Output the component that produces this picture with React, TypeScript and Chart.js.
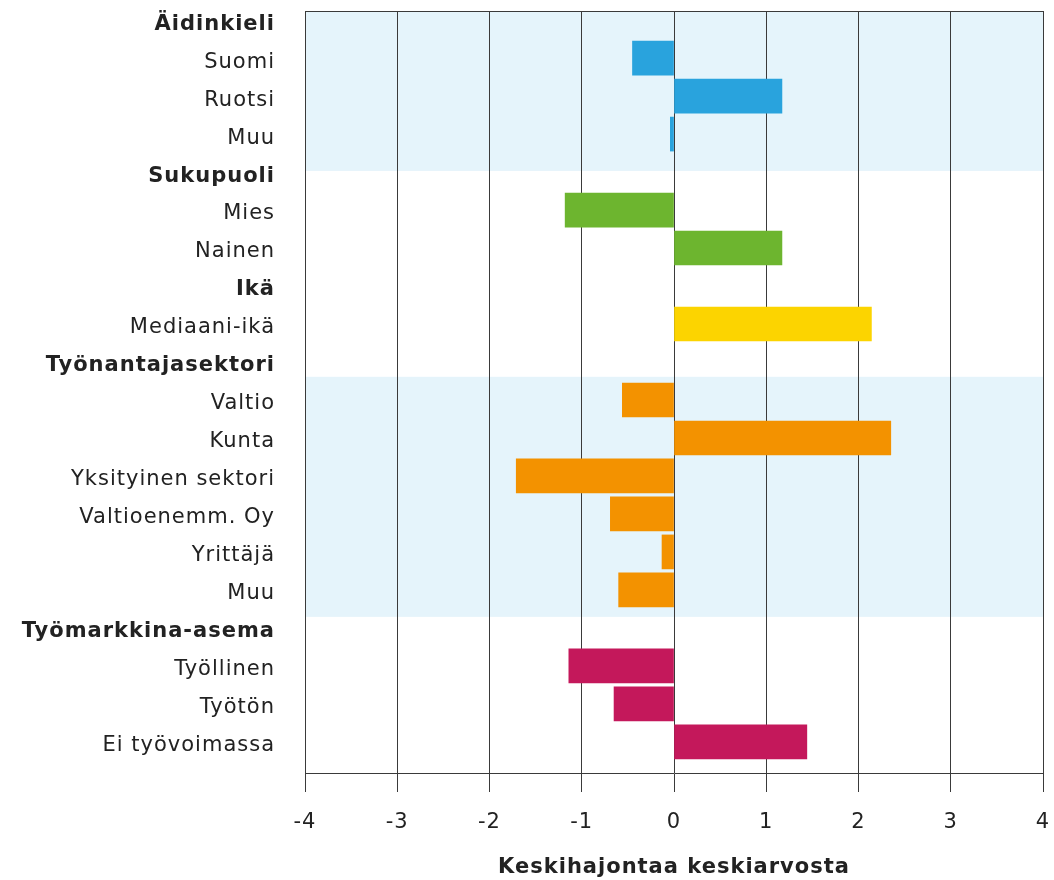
import { useEffect, useRef } from 'react';
import { Chart, registerables } from 'chart.js';

Chart.register(...registerables);

const categories = [
  'Äidinkieli', 'Suomi', 'Ruotsi', 'Muu',
  'Sukupuoli', 'Mies', 'Nainen',
  'Ikä', 'Mediaani-ikä',
  'Työnantajasektori', 'Valtio', 'Kunta', 'Yksityinen sektori', 'Valtioenemm. Oy', 'Yrittäjä', 'Muu',
  'Työmarkkina-asema', 'Työllinen', 'Työtön', 'Ei työvoimassa',
];
const headerRows = [0, 4, 7, 9, 16];
const values: (number | null)[] = [
  null, -0.45, 1.17, -0.04,
  null, -1.18, 1.17,
  null, 2.14,
  null, -0.56, 2.35, -1.71, -0.69, -0.13, -0.60,
  null, -1.14, -0.65, 1.44,
];
const groupOfRow = [0, 0, 0, 0, 1, 1, 1, 2, 2, 3, 3, 3, 3, 3, 3, 3, 4, 4, 4, 4];
const groupColors = ['#29a3dd', '#6db52f', '#fcd400', '#f39200', '#c4185b'];
const xTicks = [-4, -3, -2, -1, 0, 1, 2, 3, 4];
const axisTitle = 'Keskihajontaa keskiarvosta';
// shaded background bands, in row units
const bands: [number, number][] = [[-0.24, 3.97], [9.39, 15.71]];

const FONT = '"DejaVu Sans", Verdana, sans-serif';
const LS = '1px';

const bandPlugin = {
  id: 'bands',
  beforeLayout(chart: any) {
    chart.ctx.letterSpacing = LS;
  },
  beforeDraw(chart: any) {
    const { ctx, chartArea, scales } = chart;
    ctx.letterSpacing = LS;
    const y = scales.y;
    ctx.save();
    ctx.fillStyle = '#e5f4fb';
    bands.forEach(([a, b]) => {
      const y1 = Math.max(y.getPixelForValue(a), chartArea.top);
      const y2 = Math.min(y.getPixelForValue(b), chartArea.bottom);
      ctx.fillRect(chartArea.left, y1, chartArea.right - chartArea.left, y2 - y1);
    });
    ctx.restore();
  },
  afterDraw(chart: any) {
    const { ctx, chartArea } = chart;
    ctx.save();
    ctx.strokeStyle = '#3a3a3a';
    ctx.lineWidth = 1;
    ctx.beginPath();
    ctx.moveTo(chartArea.left, Math.round(chartArea.top) + 0.5);
    ctx.lineTo(chartArea.right + 1, Math.round(chartArea.top) + 0.5);
    ctx.stroke();
    ctx.restore();
  },
};

export default function App() {
  const ref = useRef<HTMLCanvasElement>(null);
  useEffect(() => {
    if (!ref.current) return;
    const data = values
      .map((v, i) => ({ x: v, y: i }))
      .filter((d) => d.x !== null);
    const chart = new Chart(ref.current, {
      type: 'bar',
      data: {
        datasets: [
          {
            data: data as any,
            backgroundColor: (c: any) => groupColors[groupOfRow[c.raw?.y ?? 0]],
            borderWidth: 0,
            barThickness: 34,
          },
        ],
      },
      plugins: [bandPlugin],
      options: {
        indexAxis: 'y',
        animation: false,
        responsive: true,
        maintainAspectRatio: false,
        layout: { padding: { top: 11, right: 11, left: 0, bottom: 0 } },
        plugins: { legend: { display: false }, tooltip: { enabled: false } },
        scales: {
          x: {
            type: 'linear',
            position: 'bottom',
            min: -4,
            max: 4,
            afterBuildTicks: (axis: any) => {
              axis.ticks = xTicks.map((v) => ({ value: v }));
            },
            afterFit: (scale: any) => {
              scale.paddingLeft = 0;
              scale.paddingRight = 0;
              scale.height = 107;
            },
            grid: { color: '#3a3a3a', lineWidth: 1, drawTicks: true, tickLength: 19, tickColor: '#3a3a3a' },
            border: { display: true, color: '#3a3a3a', width: 1 },
            ticks: {
              padding: 18,
              color: '#222',
              font: { family: FONT, size: 21 },
              callback: (v: any) => String(v),
            },
            title: {
              display: true,
              text: axisTitle,
              color: '#222',
              font: { family: FONT, size: 21, weight: 'bold' },
              padding: { top: 20, bottom: 0 },
            },
          },
          y: {
            type: 'linear',
            reverse: true,
            offset: false,
            min: -0.24,
            max: 19.82,
            afterBuildTicks: (axis: any) => {
              axis.ticks = categories.map((_, i) => ({ value: i }));
            },
            afterFit: (scale: any) => {
              scale.width = 305;
              scale.paddingTop = 0;
              scale.paddingBottom = 0;
            },
            grid: { display: false, drawTicks: false, offset: false },
            border: { display: false },
            ticks: {
              autoSkip: false,
              padding: 30,
              labelOffset: 4,
              color: '#222',
              font: (c: any) => ({
                family: FONT,
                size: 21,
                weight: headerRows.includes(c.tick?.value ?? c.index) ? 'bold' : 'normal',
              }),
              callback: (v: any) => categories[v] ?? '',
            },
          },
        },
      } as any,
    });
    return () => chart.destroy();
  }, []);
  return (
    <div style={{ position: 'absolute', left: 0, top: 0, width: 1054, height: 880 }}>
      <canvas ref={ref} />
    </div>
  );
}
